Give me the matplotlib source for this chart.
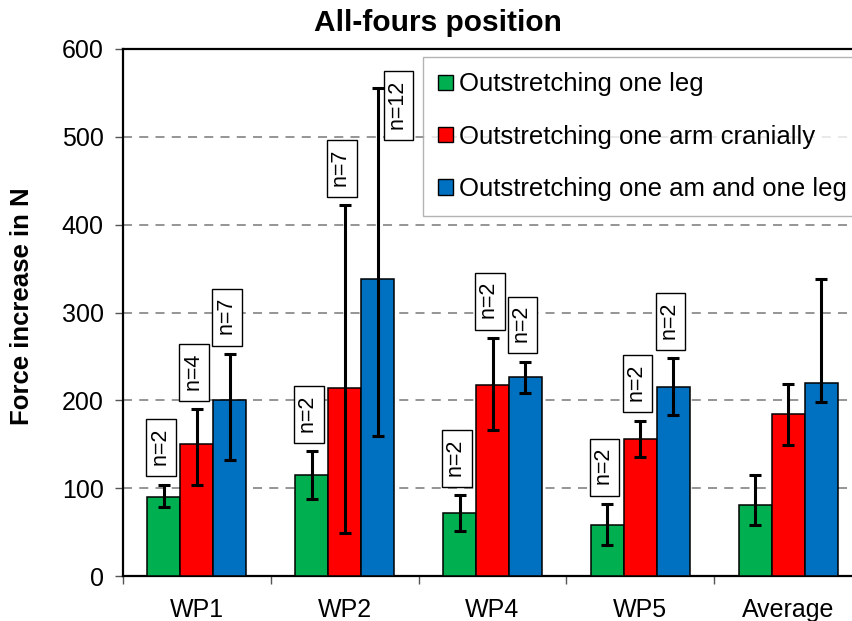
import numpy as np
import matplotlib
matplotlib.use("Agg")
import matplotlib.pyplot as plt
from matplotlib.patches import Patch

plt.rcParams['font.family'] = ['Liberation Sans', 'DejaVu Sans']

# data
groups = ["WP1", "WP2", "WP4", "WP5", "Average"]
series = ["Outstretching one leg", "Outstretching one arm cranially",
          "Outstretching one am and one leg"]
colors = ["#00B050", "#FF0000", "#0070C0"]

leg_mean = [90, 115, 72, 58, 81]
leg_low = [78, 88, 51, 35, 58]
leg_high = [104, 142, 92, 82, 115]
leg_n = ["n=2", "n=2", "n=2", "n=2", None]

arm_mean = [150, 214, 218, 156, 184]
arm_low = [104, 49, 166, 136, 149]
arm_high = [190, 422, 271, 177, 219]
arm_n = ["n=4", "n=7", "n=2", "n=2", None]

both_mean = [200, 338, 226, 215, 220]
both_low = [132, 159, 208, 183, 198]
both_high = [253, 556, 244, 248, 338]
both_n = ["n=7", "n=12", "n=2", "n=2", None]

means = [leg_mean, arm_mean, both_mean]
lows = [leg_low, arm_low, both_low]
highs = [leg_high, arm_high, both_high]
ns = [leg_n, arm_n, both_n]

fig = plt.figure(figsize=(8.52, 6.21), dpi=100)
ax = fig.add_axes([123/852, 45/621, 739/852, 527/621])

x = np.arange(len(groups))
w = 0.223
for i in range(3):
    m = np.array(means[i])
    lo = m - np.array(lows[i])
    hi = np.array(highs[i]) - m
    xs = x + (i - 1) * w
    ax.bar(xs, m, w, color=colors[i], edgecolor="black", linewidth=1.1,
           zorder=3)
    ax.errorbar(xs, m, yerr=[lo, hi], fmt="none", ecolor="black",
                elinewidth=2.2, capsize=4, capthick=2.2, zorder=4)
    for j, lab in enumerate(ns[i]):
        if lab is None:
            continue
        if lab == "n=12":
            # this one sits beside the error bar
            off = (15, -13)
            va = "center"
        else:
            off = (-2, 9)
            va = "bottom"
        ax.annotate(" " + lab + " ", xy=(xs[j], highs[i][j]), xytext=off,
                    textcoords="offset points", rotation=90, ha="center",
                    va=va, fontsize=15.5, zorder=6,
                    bbox=dict(boxstyle="square,pad=0.2", fc="white",
                              ec="black", lw=1))

ax.set_xlim(-0.5, 4.5)
ax.set_ylim(0, 600)
ax.set_yticks(range(0, 601, 100))
ax.yaxis.grid(True, color="#8c8c8c", linestyle=(0, (5, 4)), linewidth=1.3,
              zorder=0)
ax.set_axisbelow(True)

ax.set_xticks(np.arange(-0.5, 4.6, 1))
ax.set_xticklabels([])
ax.set_xticks(x, minor=True)
ax.set_xticklabels(groups, minor=True, fontsize=18)
ax.tick_params(axis="x", which="major", length=6, width=1, color="#555555")
ax.tick_params(axis="x", which="minor", length=0, pad=16)
ax.tick_params(axis="y", length=6, width=1, color="#555555", labelsize=18,
               pad=8)

for s in ["left", "top", "bottom"]:
    ax.spines[s].set_linewidth(1.6)
    ax.spines[s].set_color("black")
ax.spines["right"].set_visible(False)

handles = [Patch(facecolor=c, edgecolor="black", linewidth=1) for c in colors]
leg = fig.legend(handles, series, loc="upper left",
                 bbox_to_anchor=(423/852, 1 - 57/621), fontsize=18.5,
                 frameon=True, fancybox=False, handlelength=0.55,
                 handleheight=0.55, handletextpad=0.25, labelspacing=1.1,
                 borderpad=0.6, borderaxespad=0)
leg.get_frame().set_edgecolor("#a0a0a0")
leg.get_frame().set_linewidth(1)
leg.set_zorder(5)

fig.text(437.5/852, 1 - 23/621, "All-fours position", ha="center",
         va="center", fontsize=21.5, fontweight="bold")
fig.text(22/852, 1 - 306/621, "Force increase in N", ha="center",
         va="center", rotation=90, fontsize=18.5, fontweight="bold")

fig.savefig("out.png", dpi=100)
